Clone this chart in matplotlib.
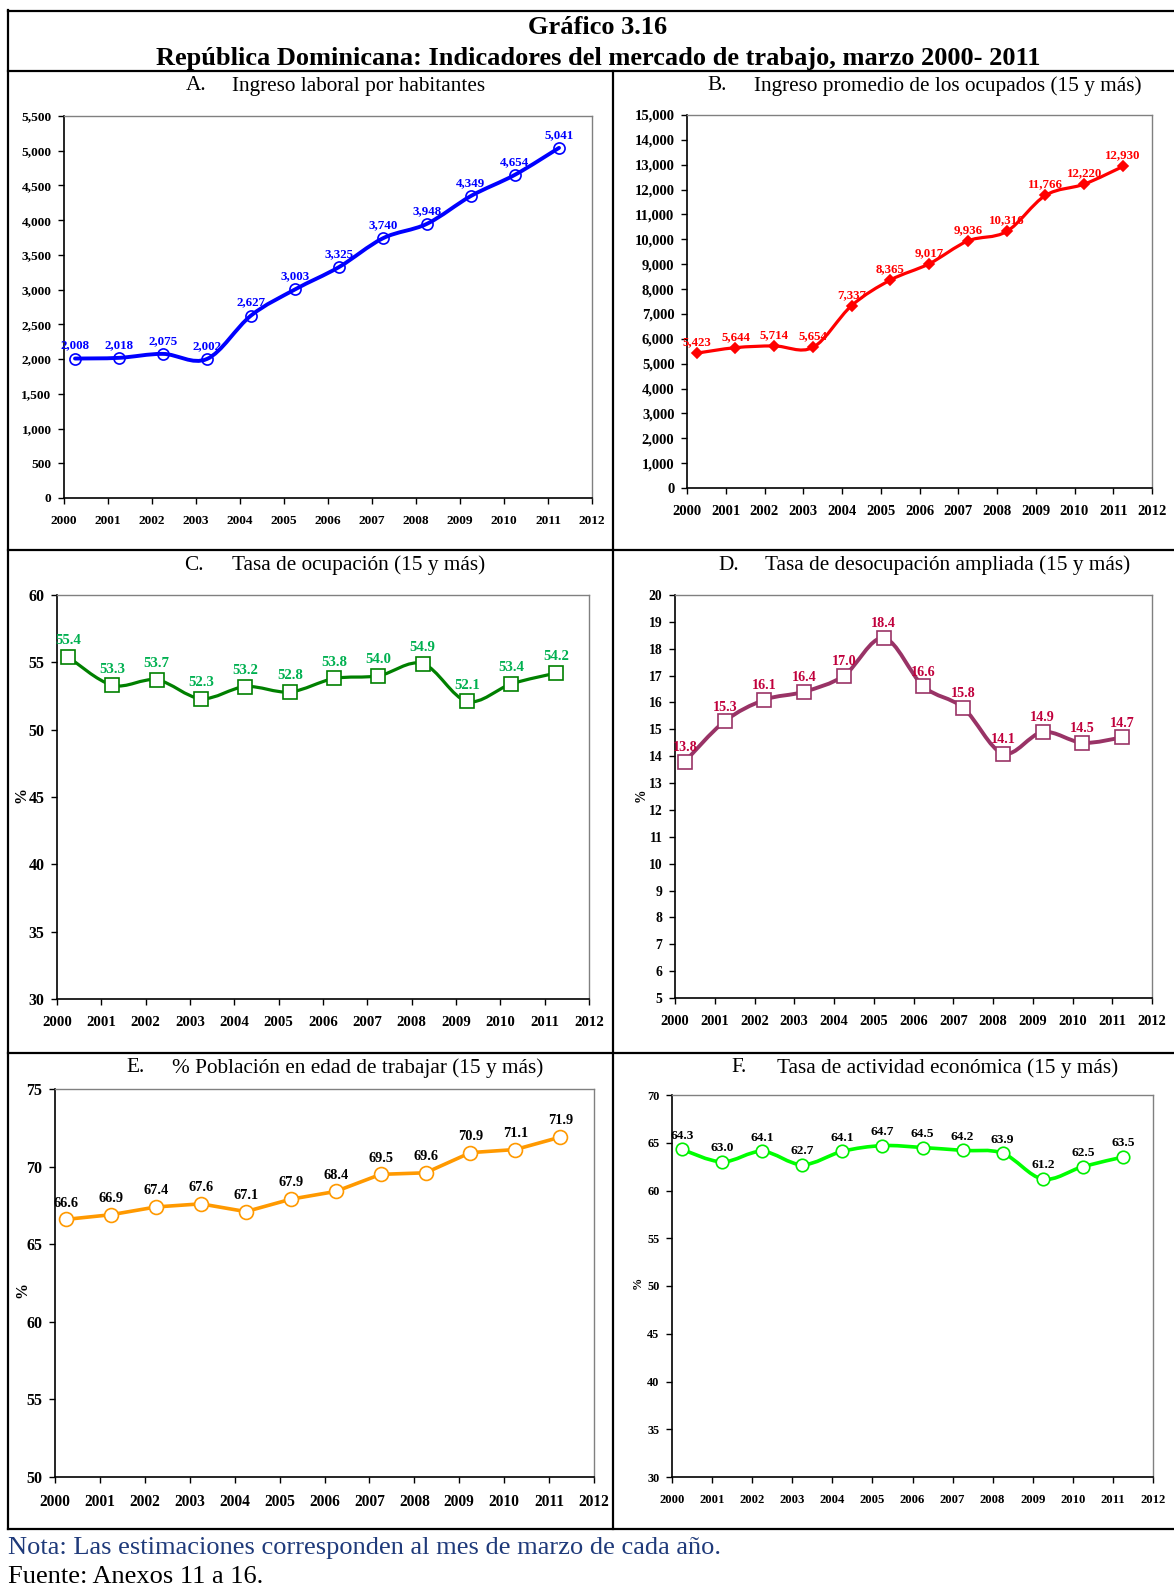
import numpy as np
import matplotlib
matplotlib.use("Agg")
import matplotlib.pyplot as plt
from matplotlib.path import Path
from matplotlib.patches import PathPatch
from matplotlib.lines import Line2D
from matplotlib.ticker import FuncFormatter, MultipleLocator

plt.rcParams['font.family'] = ['Liberation Serif', 'DejaVu Serif']

# ---------------- data ----------------
years = [2000, 2001, 2002, 2003, 2004, 2005, 2006, 2007, 2008, 2009, 2010, 2011]
ingreso_habitante = [2008, 2018, 2075, 2002, 2627, 3003, 3325, 3740, 3948, 4349, 4654, 5041]
ingreso_ocupados = [5423, 5644, 5714, 5654, 7337, 8365, 9017, 9936, 10316, 11766, 12220, 12930]
tasa_ocupacion = [55.4, 53.3, 53.7, 52.3, 53.2, 52.8, 53.8, 54.0, 54.9, 52.1, 53.4, 54.2]
tasa_desocupacion = [13.8, 15.3, 16.1, 16.4, 17.0, 18.4, 16.6, 15.8, 14.1, 14.9, 14.5, 14.7]
poblacion_edad = [66.6, 66.9, 67.4, 67.6, 67.1, 67.9, 68.4, 69.5, 69.6, 70.9, 71.1, 71.9]
tasa_actividad = [64.3, 63.0, 64.1, 62.7, 64.1, 64.7, 64.5, 64.2, 63.9, 61.2, 62.5, 63.5]

titles = [
    ("A.", "Ingreso laboral por habitantes"),
    ("B.", "Ingreso promedio de los ocupados (15 y más)"),
    ("C.", "Tasa de ocupación (15 y más)"),
    ("D.", "Tasa de desocupación ampliada (15 y más)"),
    ("E.", "% Población en edad de trabajar (15 y más)"),
    ("F.", "Tasa de actividad económica (15 y más)"),
]
main_title_1 = "Gráfico 3.16"
main_title_2 = "República Dominicana: Indicadores del mercado de trabajo, marzo 2000- 2011"
nota = "Nota: Las estimaciones corresponden al mes de marzo de cada año."
fuente = "Fuente: Anexos 11 a 16."

W, H = 1174, 1585
fig = plt.figure(figsize=(W / 100, H / 100), dpi=100)
fig.patch.set_facecolor('white')


def fx(px):
    return px / W


def fy(py):
    return 1 - py / H


def hline(y, x0=8, x1=W, lw=1.6):
    fig.add_artist(Line2D([fx(x0), fx(x1)], [fy(y), fy(y)], color='black', lw=lw))


def vline(x, y0, y1, lw=1.6):
    fig.add_artist(Line2D([fx(x), fx(x)], [fy(y0), fy(y1)], color='black', lw=lw))


# frame lines
hline(10.5)
hline(71)
hline(550)
hline(1053)
hline(1529)
vline(8, 10, 1529)
vline(613, 71, 1529)

fig.text(fx(598), fy(28), main_title_1, ha='center', va='center', fontsize=19, fontweight='bold')
fig.text(fx(598), fy(58), main_title_2, ha='center', va='center', fontsize=19, fontweight='bold')

fig.text(fx(8), fy(1548), nota, ha='left', va='center', fontsize=19, color='#1F3A7A')
fig.text(fx(8), fy(1577), fuente, ha='left', va='center', fontsize=19, color='black')


def smooth_path(x, y):
    x = np.asarray(x, float)
    y = np.asarray(y, float)
    pts = np.column_stack([x, y])
    n = len(pts)
    verts = [pts[0]]
    codes = [Path.MOVETO]
    for i in range(n - 1):
        p0 = pts[i - 1] if i > 0 else pts[i]
        p1 = pts[i]
        p2 = pts[i + 1]
        p3 = pts[i + 2] if i + 2 < n else pts[i + 1]
        c1 = p1 + (p2 - p0) / 6.0
        c2 = p2 - (p3 - p1) / 6.0
        verts += [c1, c2, p2]
        codes += [Path.CURVE4] * 3
    return Path(verts, codes)


def panel(box, values, ylim, ystep, color, marker, msize, mfc, mec, lw,
          lblcolor, lblsize, lbloff, ticksize_y, ticksize_x, fmt, title, title_pos,
          ylabel=None, ylabel_x=None, smooth=True, xoff=0.25):
    l, t, r, b = box
    ax = fig.add_axes([fx(l), fy(b), fx(r) - fx(l), fy(t) - fy(b)])
    xs = np.array(years, float) + xoff
    if smooth:
        ax.add_patch(PathPatch(smooth_path(xs, values), fill=False, ec=color, lw=lw,
                               capstyle='round', joinstyle='round', zorder=2))
    else:
        ax.plot(xs, values, color=color, lw=lw, zorder=2, solid_joinstyle='round')
    ax.plot(xs, values, linestyle='none', marker=marker, ms=msize, mfc=mfc, mec=mec,
            mew=1.2, zorder=3)
    for xv, v in zip(xs, values):
        ax.annotate(fmt(v), (xv, v), xytext=(0, lbloff), textcoords='offset points',
                    ha='center', va='bottom', fontsize=lblsize, fontweight='bold',
                    color=lblcolor, zorder=4)
    ax.set_xlim(2000, 2012)
    ax.set_ylim(*ylim)
    ax.xaxis.set_major_locator(MultipleLocator(1))
    ax.yaxis.set_major_locator(MultipleLocator(ystep))
    ax.xaxis.set_major_formatter(FuncFormatter(lambda v, p: f"{int(round(v))}"))
    if ylim[1] >= 1000:
        ax.yaxis.set_major_formatter(FuncFormatter(lambda v, p: f"{int(v):,}"))
    else:
        ax.yaxis.set_major_formatter(FuncFormatter(lambda v, p: f"{int(v)}"))
    ax.tick_params(axis='y', direction='out', length=4, width=1, labelsize=ticksize_y, pad=5)
    ax.tick_params(axis='x', direction='out', length=4, width=1, labelsize=ticksize_x, pad=8)
    for lab in ax.get_xticklabels() + ax.get_yticklabels():
        lab.set_fontweight('bold')
    for s in ['top', 'right']:
        ax.spines[s].set_color('#808080')
        ax.spines[s].set_linewidth(1.0)
    for s in ['left', 'bottom']:
        ax.spines[s].set_color('black')
        ax.spines[s].set_linewidth(1.2)
    if ylabel:
        fig.text(fx(ylabel_x[0]), fy(ylabel_x[1]), ylabel, rotation=90, ha='center',
                 va='center', fontsize=ticksize_y, fontweight='bold')
    (lx, tx, ty) = title_pos
    fig.text(fx(lx), fy(ty), title[0], ha='left', va='center', fontsize=15.3)
    fig.text(fx(tx), fy(ty), title[1], ha='left', va='center', fontsize=15.3)
    return ax


fmt_int = lambda v: f"{int(v):,}"
fmt_dec = lambda v: f"{v:.1f}"

# A
panel((64, 116, 592, 498), ingreso_habitante, (0, 5500), 500, '#0000FF', 'o', 8,
      'none', '#0000FF', 2.8, '#0000FF', 9.4, 5.0, 9.6, 9.6, fmt_int, titles[0],
      (186, 232, 86))
# B
panel((687, 115, 1152, 488), ingreso_ocupados, (0, 15000), 1000, '#FF0000', 'D', 5.5,
      '#FF0000', '#FF0000', 2.3, '#FF0000', 9.3, 3.5, 10.5, 10.5, fmt_int, titles[1],
      (707, 754, 86))
# C
panel((57, 595, 589, 999), tasa_ocupacion, (30, 60), 5, '#008000', 's', 10,
      'white', '#008000', 2.3, '#00B050', 10.7, 7.0, 11.5, 10.7, fmt_dec, titles[2],
      (184, 232, 565), ylabel='%', ylabel_x=(21, 795))
# D
panel((675, 595, 1152, 998), tasa_desocupacion, (5, 20), 1, '#993366', 's', 9.5,
      'white', '#993366', 2.8, '#C0003C', 10.2, 5.5, 9.8, 10.4, fmt_dec, titles[3],
      (718, 765, 565), ylabel='%', ylabel_x=(641, 795))
# E
panel((55, 1089, 594, 1477), poblacion_edad, (50, 75), 5, '#FF9900', 'o', 10,
      'white', '#FF9900', 2.6, 'black', 10.4, 7.0, 11.5, 11.2, fmt_dec, titles[4],
      (126, 172, 1068), ylabel='%', ylabel_x=(22, 1290), smooth=False)
# F
panel((672, 1095, 1153, 1477), tasa_actividad, (30, 70), 5, '#00FF00', 'o', 9,
      'white', '#00EE00', 2.6, 'black', 9.6, 5.5, 8.8, 9.2, fmt_dec, titles[5],
      (731, 777, 1068), ylabel='%', ylabel_x=(638, 1283))

fig.savefig('out.png', dpi=100, facecolor='white')
